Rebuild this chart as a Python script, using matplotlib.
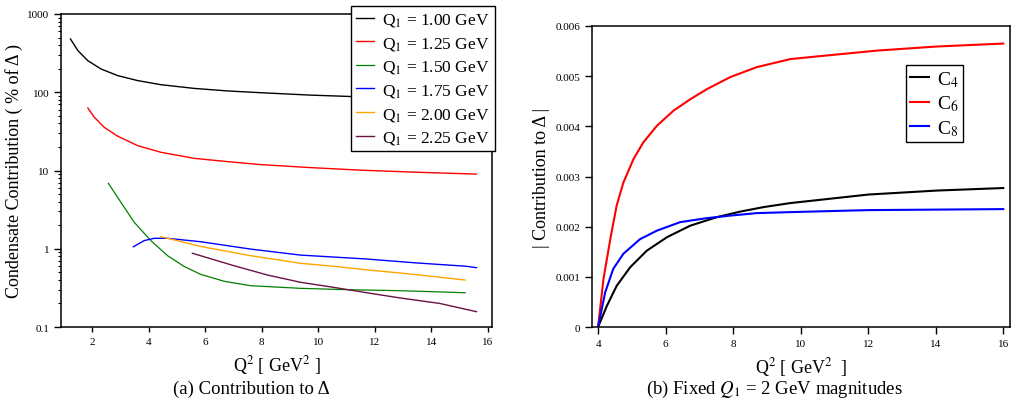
import matplotlib
matplotlib.use('Agg')
import matplotlib.pyplot as plt
from matplotlib.ticker import LogLocator, NullFormatter

plt.rcParams['font.family'] = ['Liberation Serif', 'DejaVu Serif']
plt.rcParams['mathtext.fontset'] = 'stix'

# ---- panel (a): condensate contribution, % of Delta (log scale)
q2_100 = [1.235, 1.50, 1.85, 2.32, 2.91, 3.61, 4.43, 5.61, 6.78, 7.96, 9.7, 11.24, 13.5, 15.6]
c_100 = [479, 340, 253, 198, 163, 141, 125, 112, 104, 98.7, 92, 88, 86, 84]

q2_125 = [1.85, 2.08, 2.43, 2.91, 3.61, 4.43, 5.61, 6.78, 7.96, 9.7, 11.5, 13.5, 15.6]
c_125 = [62.9, 47.9, 35.6, 27.4, 20.8, 17.1, 14.3, 13.0, 11.9, 10.9, 10.1, 9.5, 9.0]

q2_150 = [2.575, 3.02, 3.49, 4.08, 4.67, 5.25, 5.84, 6.67, 7.61, 9.37, 11.0, 12.9, 14.0, 15.2]
c_150 = [6.86, 3.92, 2.18, 1.27, 0.815, 0.596, 0.471, 0.384, 0.337, 0.312, 0.300, 0.291, 0.283, 0.274]

q2_175 = [3.46, 3.84, 4.20, 4.67, 5.84, 7.61, 9.37, 11.7, 13.5, 15.25, 15.6]
c_175 = [1.06, 1.27, 1.36, 1.36, 1.23, 0.99, 0.83, 0.74, 0.658, 0.597, 0.573]

q2_200 = [4.43, 5.84, 7.61, 9.37, 10.55, 12.0, 12.9, 14.0, 15.2]
c_200 = [1.43, 1.07, 0.815, 0.652, 0.597, 0.525, 0.49, 0.445, 0.398]

q2_225 = [5.55, 7.02, 8.2, 9.37, 10.55, 12.0, 12.9, 14.3, 15.6]
c_225 = [0.875, 0.607, 0.462, 0.373, 0.321, 0.264, 0.235, 0.20, 0.157]

# ---- panel (b): fixed Q1 = 2 GeV magnitudes
q2_c4 = [4.0, 4.26, 4.55, 4.95, 5.44, 6.04, 6.73, 7.52, 8.21, 8.90, 9.69, 12.0, 14.04, 16.0]
c4 = [0, 0.00042, 0.00082, 0.00119, 0.00152, 0.00179, 0.00202, 0.00219, 0.0023, 0.00239,
      0.00247, 0.00264, 0.00272, 0.00277]

q2_c6 = [4.0, 4.16, 4.38, 4.55, 4.75, 5.05, 5.34, 5.74, 6.23, 6.73, 7.22, 7.91, 8.70, 9.69,
         10.28, 12.27, 14.0, 16.0]
c6 = [0, 0.00096, 0.00182, 0.00242, 0.00288, 0.00335, 0.00368, 0.00401, 0.00431, 0.00454,
      0.00474, 0.00498, 0.00518, 0.00534, 0.00538, 0.00551, 0.00559, 0.00565]

q2_c8 = [4.0, 4.21, 4.45, 4.75, 5.24, 5.74, 6.43, 7.22, 7.91, 8.70, 9.69, 12.0, 14.0, 16.0]
c8 = [0, 0.00069, 0.00116, 0.00146, 0.00175, 0.00192, 0.00209, 0.00217, 0.00222, 0.00227,
      0.00229, 0.00233, 0.00234, 0.00235]

W, H = 1013, 410
fig = plt.figure(figsize=(W / 100, H / 100), dpi=100)


def px_axes(x0, x1, y0, y1):
    return fig.add_axes([x0 / W, 1 - y1 / H, (x1 - x0) / W, (y1 - y0) / H])


def style(ax):
    for s in ax.spines.values():
        s.set_linewidth(1.1)
    ax.tick_params(which='both', direction='out', top=False, right=False,
                   labelsize=8, width=1.0)
    ax.tick_params(which='major', length=5)
    ax.tick_params(which='minor', length=2.5, width=0.8)


# left panel
ax1 = px_axes(61, 492, 15, 328)
lw = 1.0
ax1.plot(q2_100, c_100, color='black', lw=lw, label='Q$_1$ = 1.00 GeV')
ax1.plot(q2_125, c_125, color='red', lw=lw, label='Q$_1$ = 1.25 GeV')
ax1.plot(q2_150, c_150, color='green', lw=0.9, label='Q$_1$ = 1.50 GeV')
ax1.plot(q2_175, c_175, color='blue', lw=lw, label='Q$_1$ = 1.75 GeV')
ax1.plot(q2_200, c_200, color='orange', lw=lw, label='Q$_1$ = 2.00 GeV')
ax1.plot(q2_225, c_225, color='#6b1245', lw=lw, label='Q$_1$ = 2.25 GeV')
ax1.set_yscale('log')
ax1.set_xlim(0.9, 16.15)
ax1.set_ylim(0.1, 1000)
ax1.set_xticks([2, 4, 6, 8, 10, 12, 14, 16])
ax1.set_yticks([0.1, 1, 10, 100, 1000])
ax1.set_yticklabels(['0.1', '1', '10', '100', '1000'])
ax1.yaxis.set_minor_locator(LogLocator(base=10, subs=range(2, 10), numticks=20))
ax1.yaxis.set_minor_formatter(NullFormatter())
style(ax1)
ax1.tick_params(axis='x', which='major', length=3.5)
ax1.set_xlabel('Q$^2$ [ GeV$^2$ ]', fontsize=13, labelpad=5)
ax1.set_ylabel('Condensate Contribution ( % of Δ )', fontsize=13, labelpad=3)
leg1 = ax1.legend(loc='upper right', bbox_to_anchor=(495 / W, 1 - 7 / H),
                  bbox_transform=fig.transFigure, borderaxespad=0,
                  fontsize=12.5, handlelength=1.0, handletextpad=0.5,
                  labelspacing=0.38, borderpad=0.3, fancybox=False,
                  framealpha=1, edgecolor='black')
leg1.get_frame().set_linewidth(1.0)

# right panel
ax2 = px_axes(592, 1010, 27, 328)
ax2.plot(q2_c4, c4, color='black', lw=1.5, label='C$_4$')
ax2.plot(q2_c6, c6, color='red', lw=1.5, label='C$_6$')
ax2.plot(q2_c8, c8, color='blue', lw=1.5, label='C$_8$')
ax2.set_xlim(3.82, 16.2)
ax2.set_ylim(0, 0.006)
ax2.set_xticks([4, 6, 8, 10, 12, 14, 16])
ax2.set_yticks([0, 0.001, 0.002, 0.003, 0.004, 0.005, 0.006])
ax2.set_yticklabels(['0', '0.001', '0.002', '0.003', '0.004', '0.005', '0.006'])
style(ax2)
ax2.set_xlabel('Q$^2$ [ GeV$^2$  ]', fontsize=13, labelpad=5)
ax2.set_ylabel('| Contribution to Δ |', fontsize=13, labelpad=4)
leg2 = ax2.legend(loc='upper right', bbox_to_anchor=(963 / W, 1 - 66 / H),
                  bbox_transform=fig.transFigure, borderaxespad=0,
                  fontsize=14, handlelength=1.0, handletextpad=0.4,
                  labelspacing=0.25, borderpad=0.2, fancybox=False,
                  framealpha=1, edgecolor='black')
leg2.get_frame().set_linewidth(1.0)

fig.text(251 / W, 1 - 389 / H, '(a) Contribution to Δ', ha='center', va='center', fontsize=13.5)
fig.text(774 / W, 1 - 389 / H, '(b) Fixed $Q_1$ = 2 GeV magnitudes', ha='center', va='center', fontsize=13.5)

fig.savefig('out.png', dpi=100)
